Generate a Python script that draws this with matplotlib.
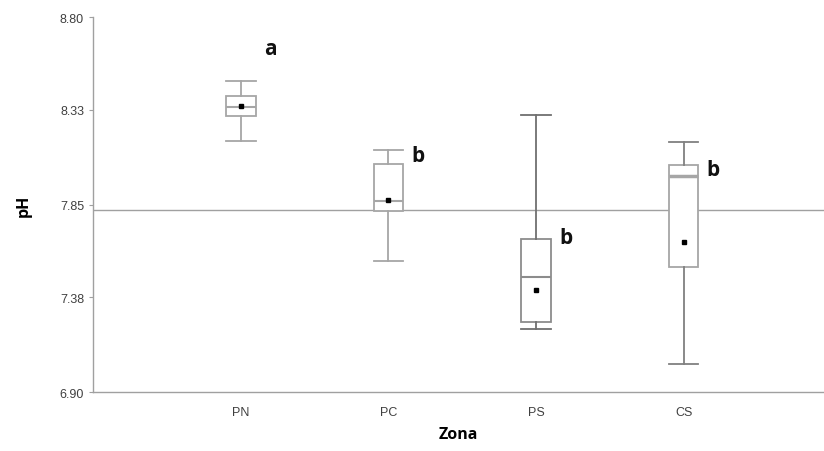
import matplotlib
matplotlib.use("Agg")
import matplotlib.pyplot as plt

zonas = ["PN", "PC", "PS", "CS"]
whislo = [8.17, 7.565, 7.22, 7.04]
q1 = [8.30, 7.818, 7.256, 7.535]
med = [8.342, 7.869, 7.481, 7.993]
q3 = [8.398, 8.055, 7.675, 8.05]
whishi = [8.477, 8.127, 8.303, 8.168]
mean = [8.347, 7.874, 7.417, 7.661]
letras = ["a", "b", "b", "b"]
letras_y = [8.64, 8.10, 7.685, 8.03]
ref_ph = 7.82
yticks = [6.90, 7.38, 7.85, 8.33, 8.80]

box_col = ["#a6a6a6", "#a6a6a6", "#8c8c8c", "#a6a6a6"]
whis_col = ["#a6a6a6", "#a6a6a6", "#707070", "#808080"]

fig = plt.figure(figsize=(8.24, 4.52), dpi=100)
ax = fig.add_axes([0.113, 0.1305, 0.887, 0.8295])

# reference line behind boxes
ax.axhline(ref_ph, color="#a0a0a0", lw=1.0, zorder=1)

stats = []
for i, z in enumerate(zonas):
    stats.append(dict(label=z, whislo=whislo[i], q1=q1[i], med=med[i],
                      q3=q3[i], whishi=whishi[i], mean=mean[i], fliers=[]))

for i, s in enumerate(stats):
    ax.bxp([s], positions=[i + 1], widths=0.2, showmeans=True,
           patch_artist=True, manage_ticks=False,
           boxprops=dict(facecolor="white", edgecolor=box_col[i], lw=1.3),
           medianprops=dict(color=box_col[i], lw=1.5 if i < 3 else 2.5),
           whiskerprops=dict(color=whis_col[i], lw=1.3),
           capprops=dict(color=whis_col[i], lw=1.3),
           meanprops=dict(marker="s", markersize=2.5, markerfacecolor="black",
                          markeredgecolor="black"),
           capwidths=0.2)

# significance letters
for i, l in enumerate(letras):
    ax.text(i + 1.2, letras_y[i], l, fontsize=15, fontweight="bold",
            family="Open Sans", ha="center", va="center", color="#111111")

ax.set_xlim(0, 4.95)
ax.set_ylim(6.90, 8.80)
ax.set_xticks(range(1, 5))
ax.set_xticklabels(zonas)
ax.set_yticks(yticks)
ax.set_yticklabels(["%.2f" % v for v in yticks])
ax.tick_params(axis="x", length=0, labelsize=9, colors="#404040", pad=10)
ax.tick_params(axis="y", length=3, labelsize=9, colors="#a0a0a0",
               labelcolor="#404040")
for lab in ax.get_xticklabels() + ax.get_yticklabels():
    lab.set_family("Liberation Sans")
for sp in ["top", "right"]:
    ax.spines[sp].set_visible(False)
for sp in ["left", "bottom"]:
    ax.spines[sp].set_color("#a0a0a0")
    ax.spines[sp].set_linewidth(1.0)

ax.set_xlabel("Zona", fontsize=11.5, fontweight="bold", labelpad=6,
              family="Open Sans")
ax.set_ylabel("pH", fontsize=11.5, fontweight="bold", labelpad=20,
              family="Open Sans")

fig.savefig("out.png", dpi=100)
